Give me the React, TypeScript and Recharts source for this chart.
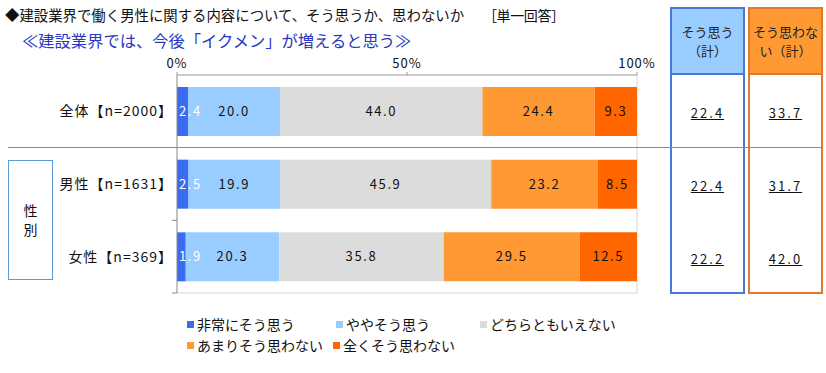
import React from 'react';
import { BarChart, Bar, XAxis, YAxis, LabelList } from 'recharts';

const categories = ['全体【n=2000】', '男性【n=1631】', '女性【n=369】'];
const seriesNames = ['非常にそう思う', 'ややそう思う', 'どちらともいえない', 'あまりそう思わない', '全くそう思わない'];
const veryAgree = [2.4, 2.5, 1.9];
const somewhatAgree = [20.0, 19.9, 20.3];
const neutral = [44.0, 45.9, 35.8];
const somewhatDisagree = [24.4, 23.2, 29.5];
const stronglyDisagree = [9.3, 8.5, 12.5];
const agreeTotal = [22.4, 22.4, 22.2];
const disagreeTotal = [33.7, 31.7, 42.0];
const xTicks = [0, 50, 100];

const COLORS = ['#3a6cf0', '#99ccff', '#dcdcdc', '#ff9933', '#ff6600'];
const KEYS = ['s1', 's2', 's3', 's4', 's5'];
const FONT = '"Noto Sans CJK JP", "Noto Sans", sans-serif';

const data = categories.map((name, i) => ({
  name,
  s1: veryAgree[i],
  s2: somewhatAgree[i],
  s3: neutral[i],
  s4: somewhatDisagree[i],
  s5: stronglyDisagree[i],
}));

const PLOT_TOP = 75;
const PLOT_BOTTOM = 293;
const PLOT_LEFT = 177;
const PLOT_RIGHT = 637;
const ROW_H = (PLOT_BOTTOM - PLOT_TOP) / categories.length;

const fmt = (v: any) => Number(v).toFixed(1);

function CatTick({ x, y, payload }: any) {
  return (
    <text x={x} y={y} dx={10} dy={5} textAnchor="end" fontSize={14} fill="#111" fontFamily={FONT} letterSpacing={1}>
      {payload.value}
    </text>
  );
}

function TotalsColumn({ left, values, header, fill, border }: any) {
  return (
    <div style={{ position: 'absolute', left, top: 7, width: 75, height: 287, boxSizing: 'border-box', border: `2px solid ${border}` }}>
      <div style={{ height: 64, background: fill, borderBottom: `2px solid ${border}`, display: 'flex', flexDirection: 'column', alignItems: 'center', justifyContent: 'center', fontSize: 13, color: '#222', lineHeight: '19px' }}>
        {header.map((h: string) => <div key={h}>{h}</div>)}
      </div>
      {values.map((v: number, i: number) => (
        <div key={i} style={{ position: 'absolute', left: 0, width: 71, top: PLOT_TOP + ROW_H * (i + 0.5) - 7 - 10, textAlign: 'center', fontSize: 13, letterSpacing: 2, textDecoration: 'underline', color: '#111', lineHeight: '20px' }}>
          {fmt(v)}
        </div>
      ))}
    </div>
  );
}

export default function App() {
  const legendRows = [[0, 1, 2], [3, 4]];
  const legendX = [[187, 336, 480], [187, 333]];
  return (
    <div style={{ position: 'absolute', left: 0, top: 0, width: 826, height: 373, background: '#fff', fontFamily: FONT, overflow: 'hidden' }}>
      <div style={{ position: 'absolute', left: 5, top: 6, fontSize: 14.4, color: '#111', whiteSpace: 'nowrap', lineHeight: '18px' }}>
        ◆建設業界で働く男性に関する内容について、そう思うか、思わないか
      </div>
      <div style={{ position: 'absolute', left: 483, top: 6, fontSize: 14, color: '#111', whiteSpace: 'nowrap', lineHeight: '18px', letterSpacing: -0.4 }}>
        ［単一回答］
      </div>
      <div style={{ position: 'absolute', left: 22, top: 32, fontSize: 16.3, color: '#2838c0', whiteSpace: 'nowrap', lineHeight: '17px' }}>
        ≪建設業界では、今後「イクメン」が増えると思う≫
      </div>

      <svg width={826} height={373} style={{ position: 'absolute', left: 0, top: 0, pointerEvents: 'none' }}>
        <line x1={PLOT_RIGHT} y1={PLOT_TOP} x2={PLOT_RIGHT} y2={PLOT_BOTTOM} stroke="#d6d6d6" />
        <line x1={PLOT_LEFT} y1={PLOT_BOTTOM} x2={PLOT_RIGHT} y2={PLOT_BOTTOM} stroke="#d6d6d6" />
        <line x1={172} y1={PLOT_TOP + ROW_H * 2} x2={PLOT_LEFT} y2={PLOT_TOP + ROW_H * 2} stroke="#888" />
        <line x1={172} y1={PLOT_BOTTOM} x2={PLOT_LEFT} y2={PLOT_BOTTOM} stroke="#888" />
      </svg>

      <div style={{ position: 'absolute', left: 0, top: 0 }}>
        <BarChart
          width={826}
          height={373}
          data={data}
          layout="vertical"
          barSize={49}
          margin={{ top: PLOT_TOP - 30, left: PLOT_LEFT - 170, right: 826 - PLOT_RIGHT, bottom: 373 - PLOT_BOTTOM }}
        >
          <XAxis
            type="number"
            orientation="top"
            domain={[0, 100]}
            allowDataOverflow
            ticks={xTicks}
            tickFormatter={(v) => `${v}%`}
            height={30}
            tickSize={3}
            tickMargin={4}
            axisLine={{ stroke: '#999' }}
            tickLine={{ stroke: '#999' }}
            tick={{ fontSize: 13, fill: '#111', fontFamily: FONT, letterSpacing: 1 }}
          />
          <YAxis
            type="category"
            dataKey="name"
            width={170}
            axisLine={{ stroke: '#888' }}
            tickLine={false}
            tickMargin={8}
            tick={<CatTick />}
          />
          {KEYS.map((key, i) => (
            <Bar key={key} dataKey={key} stackId="a" fill={COLORS[i]} isAnimationActive={false}>
              <LabelList
                dataKey={key}
                position={i === 0 ? 'insideLeft' : 'center'}
                offset={i === 0 ? 2 : 5}
                formatter={fmt}
                fill={i === 0 ? '#ffffff' : '#111'}
                fontSize={13}
                fontFamily={FONT}
                letterSpacing={1.6}
              />
            </Bar>
          ))}
        </BarChart>
      </div>

      <div style={{ position: 'absolute', left: 8, top: PLOT_TOP + ROW_H - 1, width: 814, height: 1, background: '#8a8a8a', zIndex: 2 }} />

      <div style={{ position: 'absolute', left: 8, top: 160, width: 45, height: 120, boxSizing: 'border-box', border: '1px solid #5b9bd5', display: 'flex', flexDirection: 'column', alignItems: 'center', justifyContent: 'center', fontSize: 14, lineHeight: '19px', color: '#111' }}>
        <div>性</div>
        <div>別</div>
      </div>

      <TotalsColumn left={670} values={agreeTotal} header={['そう思う', '（計）']} fill="#99ccff" border="#4a78d8" />
      <TotalsColumn left={748} values={disagreeTotal} header={['そう思わな', 'い（計）']} fill="#ff9933" border="#e07a30" />

      {legendRows.map((row, r) =>
        row.map((si, c) => (
          <div key={si} style={{ position: 'absolute', left: legendX[r][c], top: r === 0 ? 314 : 335, display: 'flex', alignItems: 'center', fontSize: 14, color: '#111', whiteSpace: 'nowrap', lineHeight: '20px' }}>
            <span style={{ display: 'inline-block', width: 7, height: 7, background: COLORS[si], marginRight: 3 }} />
            {seriesNames[si]}
          </div>
        ))
      )}
    </div>
  );
}
